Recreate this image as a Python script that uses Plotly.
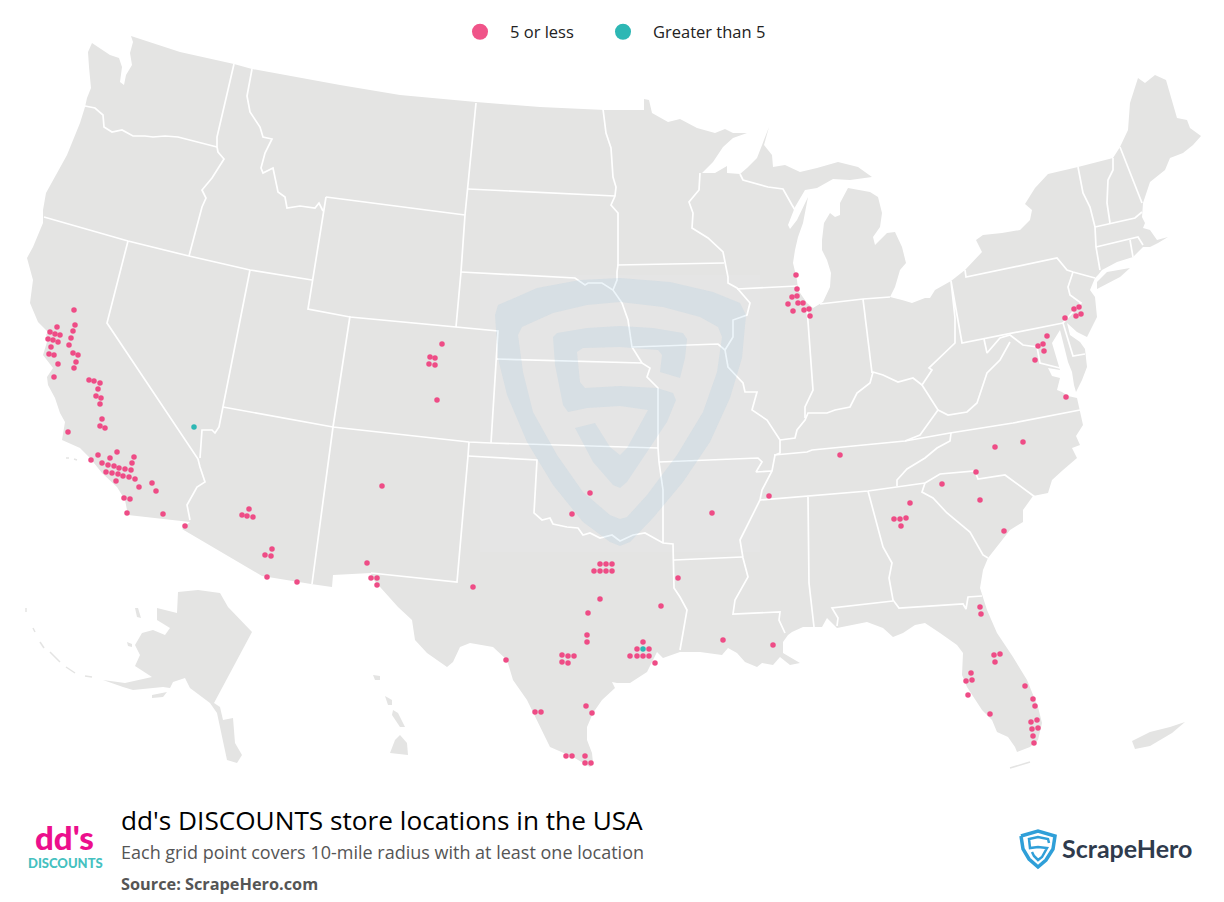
import plotly.graph_objects as go

# the map has no geo basemap available offline, so the axes run in picture pixels
FONT = "Open Sans"
LOGO_FONT = "Lato"
LAND = "#e4e4e3"
PINK = "#ee4c86"
TEAL = "#2db7b4"

pink_x = [74, 75, 57, 73, 50, 55, 60, 71, 48, 53, 58, 69, 51, 73, 49, 54, 78, 76, 58, 74, 54,
          89, 94, 100, 98, 96, 101, 100, 102, 100, 105, 68,
          117, 98, 110, 134, 91, 102, 132, 108, 114, 119, 125, 131, 106, 112, 118, 123, 129, 135,
          116, 139, 152, 156, 124, 130, 127, 163, 185,
          249, 242, 247, 253, 272, 265, 271, 267, 297,
          442, 430, 435, 429, 435, 437,
          382, 367, 371, 377, 377, 473, 590, 572,
          600, 606, 612, 594, 600, 606, 612, 678, 600, 588, 661, 587, 587,
          643, 637, 649, 630, 637, 643, 649, 655,
          562, 568, 574, 562, 568, 506, 586, 592, 535, 541, 566, 572, 585, 585, 591,
          796, 797, 797, 792, 788, 798, 803, 793, 804, 809, 810,
          1079, 1074, 1081, 1076, 1065, 1047, 1043, 1038, 1044, 1035,
          1066, 1023, 995, 840, 976, 942, 769, 980, 910, 712, 906, 894, 900, 901, 1004,
          980, 981, 723, 773, 994, 1000, 995, 971, 966, 972, 1025, 968,
          1033, 1035, 990, 1031, 1037, 1032, 1038, 1033, 1034]
pink_y = [310, 325, 327, 331, 332, 334, 335, 338, 339, 340, 342, 345, 347, 353, 354, 355, 355, 362, 364, 368, 377,
          380, 381, 383, 389, 396, 398, 404, 419, 426, 428, 432,
          452, 455, 458, 457, 460, 463, 463, 465, 466, 468, 469, 470, 472, 473, 474, 476, 477, 479,
          481, 487, 483, 491, 498, 499, 513, 514, 526,
          509, 515, 516, 517, 549, 555, 556, 577, 582,
          344, 357, 358, 364, 365, 400,
          486, 563, 578, 578, 585, 587, 493, 514,
          564, 564, 564, 571, 571, 571, 571, 578, 599, 613, 606, 635, 642,
          642, 649, 649, 656, 656, 656, 656, 663,
          655, 656, 656, 662, 663, 660, 706, 713, 712, 712, 756, 756, 756, 763, 763,
          275, 289, 296, 297, 304, 303, 303, 311, 310, 309, 316,
          307, 309, 314, 316, 318, 336, 344, 346, 351, 360,
          397, 442, 447, 455, 472, 484, 496, 500, 503, 513, 518, 519, 519, 526, 531,
          607, 614, 640, 645, 655, 654, 662, 673, 681, 680, 686, 695,
          699, 706, 714, 722, 720, 729, 728, 736, 743]
teal_x = [194, 643]
teal_y = [427, 649]

legend_names = ["5 or less", "Greater than 5"]

conus = [(92, 43), (110, 55), (119, 58), (122, 67), (120, 82), (124, 85), (126, 75), (132, 65), (130, 53), (133, 42),
         (131, 36), (180, 52), (234, 64), (252, 69), (340, 85), (400, 95), (476, 102), (540, 107), (605, 110), (644, 110),
         (644, 99), (649, 100), (652, 113), (668, 122), (680, 119), (697, 128), (715, 133), (725, 129), (733, 133), (747, 133),
         (733, 138), (723, 147), (713, 162), (702, 173), (715, 173), (727, 166), (727, 173), (740, 174), (747, 168), (757, 158),
         (769, 127), (764, 145), (772, 155), (773, 167), (785, 165), (800, 172), (817, 168), (838, 162), (858, 167), (872, 177),
         (850, 180), (833, 179), (817, 188), (805, 190), (795, 207), (788, 225), (790, 229), (797, 220), (808, 197), (803, 223),
         (798, 237), (795, 250), (793, 263), (797, 280), (798, 290), (807, 303), (813, 308), (823, 302), (830, 287), (831, 273),
         (827, 260), (822, 250), (822, 240), (824, 223), (830, 213), (835, 217), (840, 215), (840, 203), (848, 188), (870, 192),
         (878, 197), (882, 213), (880, 227), (873, 237), (875, 245), (887, 233), (895, 232), (902, 247), (906, 263), (900, 270),
         (895, 287), (890, 297), (902, 300), (912, 303), (925, 298), (930, 298), (935, 290), (951, 281), (965, 270), (975, 260),
         (982, 252), (976, 240), (983, 235), (1002, 233), (1020, 230), (1030, 220), (1032, 210), (1025, 204), (1035, 188), (1048, 174),
         (1078, 167), (1113, 158), (1120, 147), (1128, 130), (1130, 103), (1138, 78), (1145, 83), (1155, 75), (1166, 80), (1177, 118),
         (1187, 120), (1190, 128), (1201, 136), (1193, 145), (1183, 153), (1170, 158), (1165, 170), (1150, 182), (1143, 203), (1142, 217),
         (1145, 223), (1143, 228), (1150, 230), (1157, 240), (1168, 237), (1158, 243), (1150, 247), (1143, 247), (1133, 257), (1117, 262),
         (1102, 270), (1098, 275), (1095, 278), (1090, 290), (1095, 297), (1097, 317), (1087, 337), (1077, 332), (1067, 323), (1070, 335),
         (1080, 342), (1085, 349), (1087, 367), (1082, 380), (1076, 392), (1074, 385), (1072, 372), (1068, 362), (1063, 340), (1060, 330),
         (1052, 343), (1057, 360), (1060, 370), (1048, 368), (1052, 376), (1060, 378), (1057, 390), (1062, 392), (1068, 396), (1077, 398),
         (1080, 410), (1083, 425), (1076, 436), (1080, 445),
         (1072, 448), (1077, 458), (1063, 470), (1052, 480), (1048, 493), (1033, 496), (1023, 510), (1023, 522), (1010, 530), (997, 547),
         (988, 558), (983, 570), (980, 588), (987, 610), (997, 633), (1013, 657), (1027, 680), (1038, 707), (1042, 723), (1038, 740),
         (1030, 747), (1017, 752), (1015, 747), (1008, 737), (997, 732), (992, 720), (982, 710), (967, 687), (962, 675), (963, 653),
         (957, 645), (940, 633), (925, 623), (915, 625), (903, 633), (893, 637), (883, 628), (867, 622), (850, 625), (837, 628),
         (827, 618), (822, 627), (803, 627), (792, 632), (788, 635), (783, 642), (783, 653), (800, 663), (790, 665), (780, 657),
         (773, 665), (762, 663), (757, 667), (745, 662), (737, 653), (728, 648), (722, 655), (700, 652), (680, 652), (663, 658),
         (657, 652), (653, 660), (647, 672), (630, 683), (617, 683), (612, 682), (615, 688), (602, 700), (593, 713), (587, 727),
         (587, 740), (592, 753), (593, 763), (590, 767), (573, 757), (550, 747), (540, 727), (527, 700), (513, 680), (507, 660),
         (493, 647), (470, 643), (460, 647), (453, 662), (447, 667), (427, 653), (415, 640), (412, 620), (398, 607), (385, 593),
         (372, 578), (371, 573), (333, 575), (332, 587), (311, 584), (262, 576), (182, 529), (190, 522), (128, 515), (125, 500),
         (117, 487), (102, 473), (90, 458), (80, 448), (62, 440), (65, 422), (60, 413), (55, 398), (48, 385), (47, 377),
         (53, 368), (43, 355), (47, 342), (50, 340), (46, 335), (48, 332), (38, 322), (30, 303), (32, 287), (33, 280),
         (27, 258), (33, 247), (43, 223), (43, 210), (46, 193), (55, 177), (67, 155), (80, 123), (85, 107), (87, 98),
         (91, 88), (89, 67), (88, 52)]

islands = [
    [(1097, 282), (1107, 272), (1130, 268), (1120, 277), (1097, 289)],  # long island
    [(178, 592), (198, 590), (220, 593), (228, 607), (252, 632), (214, 703), (220, 707), (223, 720), (233, 718), (235, 743),
     (242, 755), (237, 763), (227, 760), (222, 737), (217, 713), (210, 703), (197, 693), (190, 688), (185, 678), (173, 682),
     (170, 688), (163, 687), (133, 690), (123, 687), (103, 680), (125, 683), (152, 677), (135, 666), (140, 655), (135, 645),
     (142, 633), (153, 630), (165, 635), (170, 628), (157, 620), (157, 608), (177, 613)],  # alaska
    [(152, 695), (167, 692), (163, 697), (152, 698)],
    [(135, 608), (138, 608), (141, 618), (137, 617)],
    [(127, 642), (132, 644), (132, 647), (128, 646)],
    [(400, 735), (407, 743), (408, 755), (390, 753), (395, 740)],  # hawaii
    [(393, 710), (398, 713), (405, 727), (400, 727), (392, 715)],
    [(385, 696), (392, 700), (392, 705), (388, 705)],
    [(373, 675), (380, 676), (380, 680), (375, 680)],
    [(1132, 741), (1150, 732), (1170, 727), (1185, 722), (1172, 733), (1150, 746), (1135, 749)],  # puerto rico corner
]
small_bits = [
    [(92, 677), (85, 676)], [(75, 673), (66, 667)], [(60, 662), (50, 652)], [(44, 648), (40, 642)],
    [(35, 632), (33, 628)], [(26, 612), (26, 608)],
    [(66, 458), (69, 458)], [(74, 459), (77, 460)],  # channel islands
    [(1010, 768), (1030, 762)],  # keys
]

state_lines = [
    [(85, 106), (95, 108), (103, 115), (104, 127), (112, 132), (122, 130), (133, 136), (145, 136), (153, 137), (165, 136), (178, 137), (217, 147)],
    [(234, 64), (217, 137), (217, 147), (218, 152), (224, 159), (212, 178), (202, 190), (206, 198), (202, 207), (189, 256)],
    [(252, 69), (247, 96), (250, 112), (260, 127), (263, 137), (272, 139), (265, 153), (261, 168), (263, 173), (273, 168), (278, 192), (285, 197), (287, 208), (300, 206), (315, 208), (319, 203), (323, 211)],
    [(326, 197), (308, 309), (350, 317), (456, 327), (498, 331), (491, 443)],
    [(44, 217), (128, 241), (189, 256), (250, 270), (312, 280)],
    [(128, 241), (107, 323), (198, 459), (200, 467), (205, 482), (197, 487), (187, 505), (190, 520)],
    [(250, 270), (223, 407), (219, 427), (215, 433), (212, 430), (202, 430), (200, 458)],
    [(223, 407), (333, 427), (469, 442), (491, 443), (658, 448)],
    [(350, 316), (339, 390), (333, 427), (312, 584)],
    [(326, 197), (465, 215)],
    [(476, 103), (468, 189), (465, 215), (461, 272), (456, 327)],
    [(468, 189), (615, 196)],
    [(461, 272), (575, 278), (585, 285), (588, 283), (602, 283), (613, 290), (622, 303), (628, 320), (632, 347), (642, 363)],
    [(603, 109), (606, 133), (611, 148), (613, 177), (616, 187), (615, 196), (611, 205), (618, 213), (618, 265), (617, 272), (617, 280), (613, 290)],
    [(617, 265), (724, 263)],
    [(700, 173), (699, 190), (689, 202), (693, 213), (692, 228), (708, 238), (723, 252), (725, 263), (728, 277), (728, 283), (737, 288), (750, 303), (747, 315), (733, 320), (733, 337), (725, 350),
     (728, 367), (743, 383), (745, 392), (757, 392), (752, 410), (767, 420), (775, 433), (780, 440), (780, 453), (775, 455), (772, 471), (762, 490), (760, 500), (748, 525), (740, 540), (743, 558), (748, 577), (735, 600), (733, 614), (780, 612), (779, 620), (785, 633)],
    [(740, 174), (743, 180), (768, 187), (783, 189), (792, 205), (795, 210)],
    [(737, 289), (797, 286)],
    [(632, 347), (718, 344), (725, 350)],
    [(497, 359), (642, 363), (650, 368), (647, 377), (658, 388), (658, 448), (659, 462), (663, 490), (663, 543)],
    [(659, 462), (758, 458), (762, 462), (756, 472), (772, 471)],
    [(469, 442), (468, 456), (457, 582), (371, 573)],
    [(468, 456), (537, 460), (534, 513), (542, 520), (550, 518), (553, 524), (567, 527), (578, 528), (583, 535), (590, 533), (600, 538), (612, 535), (620, 541), (633, 535), (645, 533), (663, 543), (673, 544), (674, 588), (680, 597), (687, 610), (683, 633), (680, 650)],
    [(674, 560), (742, 557)],
    [(760, 500), (868, 491), (925, 483)],
    [(808, 497), (809, 583), (814, 627)],
    [(868, 491), (883, 547), (892, 563), (889, 578), (893, 600), (899, 608), (963, 604), (966, 609), (968, 597), (982, 596)],
    [(893, 601), (832, 608), (838, 618), (837, 626)],
    [(925, 483), (922, 492), (933, 498), (947, 513), (970, 532), (983, 555), (988, 558)],
    [(925, 483), (940, 474), (975, 471), (978, 479), (1005, 475), (1035, 497)],
    [(897, 486), (897, 480), (907, 469), (925, 458), (937, 448), (950, 441), (951, 433)],
    [(774, 455), (807, 452), (812, 450), (905, 441), (950, 433), (1013, 423), (1080, 410)],
    [(905, 441), (920, 435), (938, 410), (922, 385)],
    [(938, 410), (948, 415), (967, 412), (977, 403), (987, 373), (1000, 360), (1010, 342)],
    [(780, 440), (795, 438), (797, 430), (805, 420), (808, 413), (827, 413), (835, 410), (850, 407), (857, 393), (870, 383), (873, 372), (883, 375), (898, 382), (913, 378), (922, 385), (932, 370), (929, 368), (943, 355), (955, 343), (955, 318), (951, 281), (962, 343), (1063, 323)],
    [(807, 308), (812, 373), (813, 390), (805, 407), (805, 418)],
    [(820, 304), (863, 299), (890, 297)],
    [(863, 299), (872, 373)],
    [(965, 270), (966, 277), (1057, 258), (1067, 270), (1073, 272), (1095, 278)],
    [(1073, 272), (1068, 287), (1070, 295), (1081, 303), (1063, 323), (1073, 356), (1085, 354)],
    [(984, 339), (987, 353), (1000, 338), (1010, 335), (1023, 345), (1037, 347), (1040, 363), (1060, 368)],
    [(1078, 167), (1083, 193), (1090, 207), (1095, 227), (1096, 247), (1100, 270)],
    [(1113, 158), (1113, 170), (1108, 180), (1107, 203), (1110, 223)],
    [(1120, 147), (1142, 203)],
    [(1095, 227), (1135, 218), (1142, 212)],
    [(1096, 247), (1138, 237), (1143, 245)],
    [(1130, 240), (1133, 257)],
]

watermark_box = [(480, 275), (760, 275), (760, 552), (480, 552)]
shield_outer = [(495, 315), (498, 305), (537, 288), (580, 280), (620, 278), (670, 282), (713, 292), (740, 303), (746, 315), (742, 358),
                (730, 398), (710, 442), (683, 482), (653, 518), (630, 542), (620, 546), (610, 542), (583, 522), (553, 485), (527, 442),
                (507, 395), (498, 358), (495, 315)]
shield_inner = [(518, 335), (522, 327), (553, 313), (587, 305), (620, 302), (663, 307), (700, 317), (718, 327), (722, 337), (717, 372),
                (703, 412), (677, 455), (647, 495), (627, 517), (620, 519), (610, 515), (583, 492), (557, 455), (533, 412), (523, 372),
                (518, 335)]
shield_s = [(553, 337), (557, 333), (587, 328), (620, 326), (653, 328), (683, 333), (687, 339), (685, 358), (680, 378), (660, 372),
            (662, 355), (658, 350), (620, 347), (583, 348), (577, 352), (580, 382), (585, 388), (620, 386), (657, 388), (673, 393),
            (676, 400), (667, 422), (647, 452), (627, 482), (620, 488), (613, 485), (593, 462), (575, 428), (595, 423), (610, 447),
            (620, 455), (627, 448), (648, 410), (620, 406), (587, 408), (568, 412), (563, 405), (555, 365)]
logo_shield = [(1021, 836), (1038, 831), (1055, 836), (1053, 849), (1046, 860), (1038, 867), (1029, 859), (1023, 849), (1021, 836)]
logo_s = [(1049, 843), (1048, 839), (1038, 837), (1029, 839), (1030, 848), (1038, 847), (1047, 848), (1042, 857), (1038, 860), (1034, 856), (1032, 852)]


def xs(pts):
    return [p[0] for p in pts]


def ys(pts):
    return [p[1] for p in pts]


def area(pts, color):
    return go.Scatter(x=xs(pts), y=ys(pts), mode="lines", fill="toself", fillcolor=color,
                      line=dict(width=0), hoverinfo="skip", showlegend=False)


def line(pts, color, width):
    return go.Scatter(x=xs(pts), y=ys(pts), mode="lines", line=dict(color=color, width=width),
                      hoverinfo="skip", showlegend=False)


fig = go.Figure()
fig.add_trace(area(conus, LAND))
for isl in islands:
    fig.add_trace(area(isl, LAND))
for bit in small_bits:
    fig.add_trace(line(bit, LAND, 1.5))
for seg in state_lines:
    fig.add_trace(line(seg, "white", 1.7))

# watermark sits over the map, state lines show through it
fig.add_trace(area(watermark_box, "rgba(255,255,255,0.07)"))
fig.add_trace(area(shield_outer + shield_inner[::-1] + shield_outer[:1], "rgba(137,190,223,0.15)"))
fig.add_trace(area(shield_s, "rgba(137,190,223,0.15)"))

fig.add_trace(go.Scatter(x=pink_x, y=pink_y, mode="markers", showlegend=False,
                         marker=dict(color=PINK, size=5.5), hoverinfo="skip"))
fig.add_trace(go.Scatter(x=teal_x, y=teal_y, mode="markers", showlegend=False,
                         marker=dict(color=TEAL, size=5.5), hoverinfo="skip"))
# legend dots are bigger than the map dots, so they get their own empty traces
# and each one gets its own legend so the spacing can be set
fig.add_trace(go.Scatter(x=[None], y=[None], mode="markers", name=legend_names[0], legend="legend",
                         marker=dict(color="#f05489", size=16)))
fig.add_trace(go.Scatter(x=[None], y=[None], mode="markers", name=legend_names[1], legend="legend2",
                         marker=dict(color=TEAL, size=16)))

fig.add_trace(line(logo_shield, "#2f9fd8", 3.5))
fig.add_trace(line(logo_s, "#2f9fd8", 2.5))

texts = [
    (120, 819.5, "dd's DISCOUNTS store locations in the USA", 26.2, "#000000", 500, "left", FONT),
    (120, 852, "Each grid point covers 10-mile radius with at least one location", 18, "#555555", 400, "left", FONT),
    (120, 884, "Source: ScrapeHero.com", 16.3, "#555555", 700, "left", FONT),
    (64, 837, "dd's", 33, "#ec0f8c", 900, "center", LOGO_FONT),
    (65, 863, "DISCOUNTS", 13, "#45c1c0", 900, "center", LOGO_FONT),
    (1061, 848, "ScrapeHero", 25, "#2f3b4d", 700, "left", LOGO_FONT),
]
for tx, ty, label, size, color, weight, anchor, family in texts:
    fig.add_annotation(x=tx, y=ty, text=label, showarrow=False, xanchor=anchor, yanchor="middle",
                       xref="x", yref="y", borderpad=0,
                       font=dict(family=family, size=size, color=color, weight=weight))

legend_style = dict(orientation="h", xanchor="left", y=1 - 32 / 902, yanchor="middle", itemwidth=50,
                    font=dict(size=16.5, color="#222222"), bgcolor="rgba(0,0,0,0)",
                    itemclick=False, itemdoubleclick=False)

fig.update_xaxes(range=[0, 1224], visible=False, fixedrange=True)
fig.update_yaxes(range=[902, 0], visible=False, fixedrange=True)
fig.update_layout(
    width=1224, height=902,
    margin=dict(l=0, r=0, t=0, b=0, autoexpand=False),
    plot_bgcolor="white", paper_bgcolor="white",
    font=dict(family=FONT, color="#222222", size=16),
    legend=dict(x=450 / 1224, **legend_style),
    legend2=dict(x=593 / 1224, **legend_style),
)

fig.write_html("out.html", config={"displayModeBar": False},
               post_script="document.body.style.margin='0';document.body.style.overflow='hidden';")
